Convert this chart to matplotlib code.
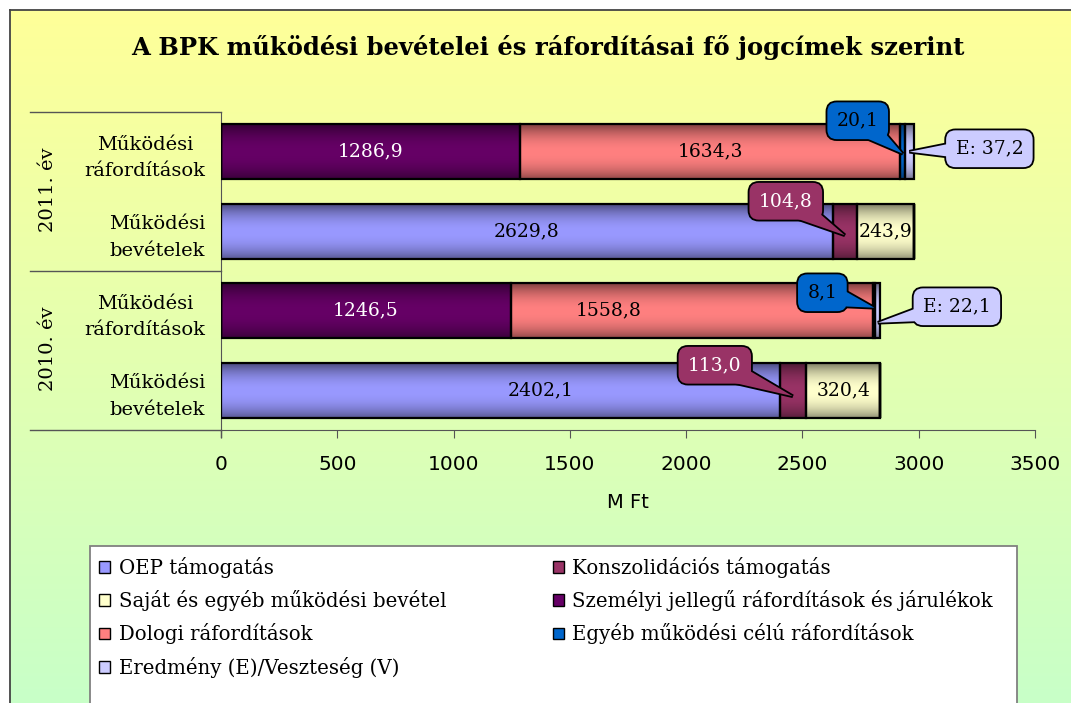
import numpy as np
import matplotlib.pyplot as plt
from matplotlib.patches import Patch, Polygon, Rectangle
from matplotlib.colors import to_rgb

plt.rcParams['font.family'] = ['DejaVu Serif']

# categories, bottom to top
cats = ["Működési\nbevételek", "Működési\nráfordítások", "Működési\nbevételek", "Működési\nráfordítások"]
years = ["2010. év", "2011. év"]

# series (0 where the series does not occur on a row)
oep = [2402.1, 0, 2629.8, 0]
konsz = [113.0, 0, 104.8, 0]
sajat = [320.4, 0, 243.9, 0]
szemelyi = [0, 1246.5, 0, 1286.9]
dologi = [0, 1558.8, 0, 1634.3]
egyeb = [0, 8.1, 0, 20.1]
eredmeny = [0, 22.1, 0, 37.2]

names = ["OEP támogatás", "Konszolidációs támogatás", "Saját és egyéb működési bevétel",
         "Személyi jellegű ráfordítások és járulékok", "Dologi ráfordítások",
         "Egyéb működési célú ráfordítások", "Eredmény (E)/Veszteség (V)"]
series = [oep, konsz, sajat, szemelyi, dologi, egyeb, eredmeny]
colors = ["#9999FF", "#993366", "#FFFFCC", "#660066", "#FF8080", "#0066CC", "#CCCCFF"]
txtcol = ["black", "white", "black", "white", "black", "black", "black"]
callout = [False, True, False, False, False, True, True]

W, H = 1071, 703
fig = plt.figure(figsize=(W / 100, H / 100), dpi=100)

# gradient background of the chart area
bg = fig.add_axes([10 / W, 0, 1, 1 - 10 / H], zorder=-10)
grad = np.linspace(0, 1, 256)[:, None]
top = np.array([255, 255, 153]) / 255
bot = np.array([200, 255, 200]) / 255
img = top[None, None, :] * (1 - grad[..., None]) + bot[None, None, :] * grad[..., None]
bg.imshow(img, aspect='auto', extent=(0, 1, 0, 1))
bg.set_xticks([])
bg.set_yticks([])
for s in ['right', 'bottom']:
    bg.spines[s].set_visible(False)
for s in ['top', 'left']:
    bg.spines[s].set_color('#444444')
    bg.spines[s].set_linewidth(1.3)

ax = fig.add_axes([221 / W, 1 - 430 / H, (1035 - 221) / W, (430 - 112) / H])
ax.set_facecolor('none')

y = np.arange(len(cats))
h = 0.69
left = np.zeros(len(cats))


def shade(c):
    t = np.linspace(0, 1, 64)
    f = 1 - 0.42 * np.abs(2 * t - 1) ** 2.2
    f[t > 0.5] = 1 - 0.5 * np.abs(2 * t[t > 0.5] - 1) ** 2.0
    rgb = np.array(to_rgb(c))
    return (rgb[None, :] * f[:, None])[:, None, :]


for vals, c in zip(series, colors):
    bars = ax.barh(y, vals, left=left, height=h, color=c, edgecolor='none', zorder=2)
    for b in bars:
        if b.get_width() <= 0:
            continue
        im = ax.imshow(shade(c), aspect='auto', origin='lower', zorder=2.1,
                       extent=(b.get_x(), b.get_x() + b.get_width(), b.get_y(), b.get_y() + b.get_height()))
        im.set_clip_path(b)
    ax.barh(y, vals, left=left, height=h, fill=False, edgecolor='black', linewidth=1.6, zorder=3)
    left = left + np.array(vals)

ax.set_xlim(0, 3500)
ax.set_ylim(-0.5, 3.5)

# label placement tweaks (pixels): inside labels moved by hand, callout box offsets
nudge = {(0, 0): 40, (4, 1): -83}
co_off = {(1, 0): (-78, 25, -6), (1, 2): (-59, 30, -4), (5, 1): (-52, 18, 3),
          (5, 3): (-45, 31, -2), (6, 1): (79, 4, -12), (6, 3): (80, 3, 0)}

start = np.zeros(len(cats))
for si, vals in enumerate(series):
    for ci, v in enumerate(vals):
        if v <= 0:
            continue
        xc = start[ci] + v / 2
        lab = f"{v:.1f}".replace('.', ',')
        if callout[si]:
            if si == 6:
                lab = "E: " + lab
            dx, dy, tdy = co_off[(si, ci)]
            px, py = ax.transData.transform((xc, y[ci]))
            py += tdy
            bx, by = px + dx, py + dy - tdy
            # pointer wedge from box centre to the segment
            d = np.array([px - bx, py - by])
            n = np.array([-d[1], d[0]]) / np.hypot(*d) * 13
            verts = [(bx + n[0], by + n[1]), (px, py), (bx - n[0], by - n[1])]
            fig.add_artist(Polygon(verts, closed=True, fc=colors[si], ec='black', lw=2.6,
                                   transform=None, zorder=4, joinstyle='miter'))
            fig.text(bx / W, by / H, lab, ha='center', va='center', fontsize=13.5,
                     color='none', zorder=5,
                     bbox=dict(boxstyle='round,pad=0.55,rounding_size=0.55', fc=colors[si],
                               ec='black', lw=1.3))
            fig.add_artist(Polygon(verts, closed=True, fc=colors[si], ec='none',
                                   transform=None, zorder=6))
            fig.text(bx / W, by / H, lab, ha='center', va='center', fontsize=13.5,
                     color=txtcol[si], zorder=7)
        else:
            ax.annotate(lab, xy=(xc, y[ci]), xytext=(nudge.get((si, ci), 0) * 0.72, 0),
                        textcoords='offset points', ha='center', va='center',
                        fontsize=13.5, color=txtcol[si], zorder=5)
    start = start + np.array(vals)

# axes styling
for s in ['top', 'right']:
    ax.spines[s].set_visible(False)
ax.spines['left'].set_color('#555555')
ax.spines['bottom'].set_color('#555555')
ax.set_yticks(y)
ax.set_yticklabels(cats, fontsize=14, multialignment='center', linespacing=1.6)
ax.tick_params(axis='y', length=0, pad=11)
ax.set_xticks(np.arange(0, 3501, 500))
ax.tick_params(axis='x', length=6, color='#555555', pad=12)
for t in ax.get_xticklabels():
    t.set_fontfamily('DejaVu Sans')
    t.set_fontsize(14.5)
ax.set_xlabel("M Ft", fontfamily='DejaVu Sans', fontsize=14, labelpad=14)

# year group separators and labels
for yy in [0, 0.5, 1]:
    ax.plot([-0.235, 0], [yy, yy], transform=ax.transAxes, color='#555555', lw=1, clip_on=False)
ax.plot([0, 0], [0, -0.023], transform=ax.transAxes, color='#555555', lw=1, clip_on=False)
for i, yr in enumerate(years):
    ax.text(-0.212, 0.255 + 0.5 * i, yr, transform=ax.transAxes, rotation=90,
            ha='center', va='center', fontsize=14)

fig.text(548 / W, 1 - 48 / H, "A BPK működési bevételei és ráfordításai fő jogcímek szerint",
         ha='center', va='center', fontsize=17.5, fontweight='bold')

# legend box and entries, filled column by column
fig.add_artist(Rectangle((90 / W, -0.05), 927 / W, 1 - 546 / H + 0.05, transform=fig.transFigure,
                         fc='white', ec='#808080', lw=1.3, zorder=8))
order = [0, 2, 4, 6, 1, 3, 5]
handles = [Patch(facecolor=colors[i], edgecolor='black', lw=1) for i in order]
leg = fig.legend(handles, [names[i] for i in order], loc='upper left', ncol=2,
                 bbox_to_anchor=(99 / W, 1 - 557 / H),
                 fontsize=14.2, frameon=False,
                 handlelength=0.55, handleheight=0.55, handletextpad=0.45,
                 labelspacing=0.62, columnspacing=5.4, borderaxespad=0, borderpad=0)
leg.set_zorder(9)

fig.savefig("out.png", dpi=100)
